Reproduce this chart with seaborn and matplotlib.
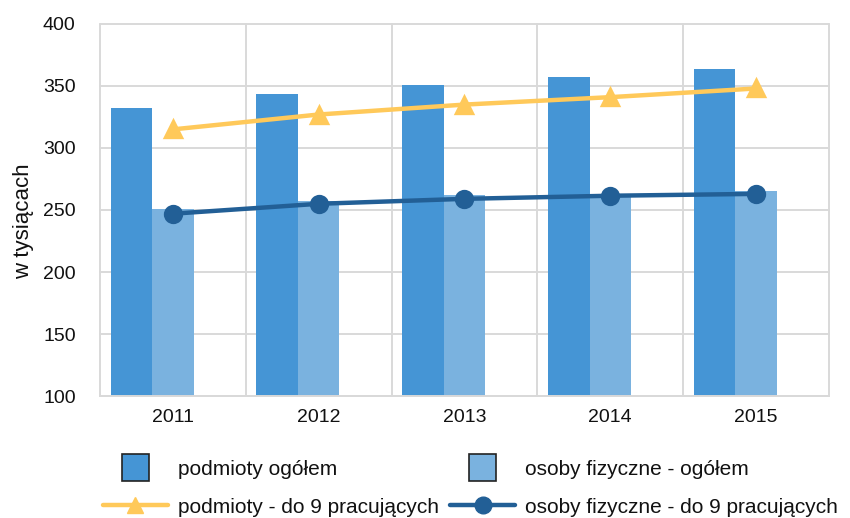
import numpy as np
import pandas as pd
import seaborn as sns
import matplotlib
matplotlib.use('Agg')
import matplotlib.pyplot as plt
from matplotlib.patches import Rectangle, Patch
from matplotlib.lines import Line2D
from matplotlib.legend_handler import HandlerPatch

lata = ['2011', '2012', '2013', '2014', '2015']
podmioty_ogolem = [332, 343.5, 351, 357, 364]
osoby_ogolem = [251, 257.5, 262, 263, 265.5]
podmioty_do9 = [315, 327, 335, 341, 348]
osoby_do9 = [247, 255, 259, 261.5, 263]

n_pod = 'podmioty ogółem'
n_os = 'osoby fizyczne - ogółem'
n_pod9 = 'podmioty - do 9 pracujących'
n_os9 = 'osoby fizyczne - do 9 pracujących'

kolory = {n_pod: '#4595D5', n_os: '#7AB2DF', 'puste': '#FFFFFF',
          n_pod9: '#FFC95A', n_os9: '#225F96'}

slupki = pd.DataFrame({
    'rok': lata * 2,
    'wartosc': podmioty_ogolem + osoby_ogolem,
    'seria': [n_pod] * 5 + [n_os] * 5,
})
linie = pd.DataFrame({
    'rok': lata * 2,
    'wartosc': podmioty_do9 + osoby_do9,
    'seria': [n_pod9] * 5 + [n_os9] * 5,
})

sns.set_style('white')
plt.rcParams['font.family'] = ['Liberation Sans', 'DejaVu Sans']
plt.rcParams['text.color'] = '#111111'
plt.rcParams['axes.labelcolor'] = '#111111'

fig = plt.figure(figsize=(8.5, 5.18), dpi=100)
ax = fig.add_axes([0.1176, 0.2355, 0.8577, 0.7182])

# trzecia pusta seria przesuwa słupki tak jak w oryginale
sns.barplot(data=slupki, x='rok', y='wartosc', hue='seria',
            hue_order=[n_pod, n_os, 'puste'], palette=kolory,
            width=0.853, gap=0, saturation=1, linewidth=0,
            legend=False, ax=ax)
sns.pointplot(data=linie, x='rok', y='wartosc', hue='seria',
              hue_order=[n_pod9, n_os9], palette=kolory,
              markers=['^', 'o'], linestyles=['-', '-'], dodge=False,
              markersize=11.5, linewidth=3.2, legend=False, ax=ax)

ax.set_xlim(-0.5, 4.5)
ax.set_ylim(100, 400)
ax.set_yticks(range(100, 401, 50))
ax.set_xticks(np.arange(-0.5, 5, 1), minor=True)

szary = '#D9D9D9'
ax.grid(False)
ax.grid(axis='y', which='major', color=szary, lw=1.4)
ax.grid(axis='x', which='minor', color=szary, lw=1.4)
ax.set_axisbelow(True)
for t in ax.xaxis.get_minor_ticks() + ax.yaxis.get_major_ticks():
    t.gridline.set_clip_on(False)
for s in ['top', 'right', 'left']:
    ax.spines[s].set_visible(False)
ax.spines['bottom'].set_color(szary)
ax.spines['bottom'].set_linewidth(1.4)

ax.tick_params(axis='x', which='major', length=0, pad=9, labelsize=14, labelcolor='#111111')
ax.tick_params(axis='x', which='minor', length=4.5, width=1.4, color=szary)
ax.tick_params(axis='y', length=4.5, width=1.4, color=szary, pad=13, labelsize=14,
               labelcolor='#111111')

ax.set_xlabel('')
ax.set_ylabel('w tysiącach', fontsize=16)
ax.yaxis.set_label_coords(-0.09, 0.47)


def kwadrat(legend, orig_handle, xdescent, ydescent, width, height, fontsize):
    s = 1.3 * fontsize
    return Rectangle((-xdescent + width / 2 - s / 2, -ydescent + height / 2 - s / 2), s, s)


uchwyty = [
    Patch(facecolor=kolory[n_pod], edgecolor='#222222', lw=1.2),
    Line2D([], [], color=kolory[n_pod9], lw=3.2, marker='^', markersize=12),
    Patch(facecolor=kolory[n_os], edgecolor='#222222', lw=1.2),
    Line2D([], [], color=kolory[n_os9], lw=3.2, marker='o', markersize=12),
]
etykiety = [n_pod, n_pod9, n_os, n_os9]
fig.legend(uchwyty, etykiety, loc='upper left', bbox_to_anchor=(103 / 850, 1 - 460 / 518),
           ncol=2, frameon=False, fontsize=15, handlelength=3.1, handletextpad=0.5,
           columnspacing=0.55, labelspacing=0.9, borderpad=0, borderaxespad=0,
           handler_map={Patch: HandlerPatch(patch_func=kwadrat)})

fig.savefig('out.png', dpi=100)
